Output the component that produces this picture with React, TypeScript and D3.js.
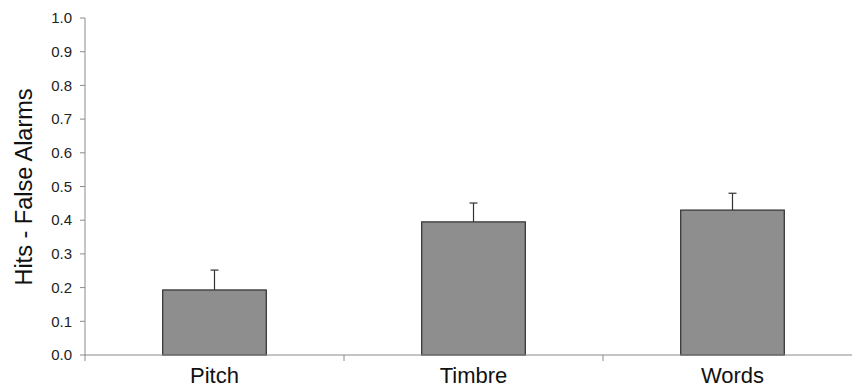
import React from "react";
import * as d3 from "d3";

const categories = ["Pitch", "Timbre", "Words"];
const values = [0.193, 0.395, 0.43];
const errors = [0.059, 0.056, 0.05];
const yTicks = [0, 0.1, 0.2, 0.3, 0.4, 0.5, 0.6, 0.7, 0.8, 0.9, 1.0];

const W = 852;
const H = 388;
const left = 85;
const right = 862;
const top = 18;
const bottom = 355;
const font = "'Liberation Sans', Arial, sans-serif";

export default function App() {
  const x = d3.scaleBand<string>().domain(categories).range([left, right]).paddingInner(0).paddingOuter(0);
  const y = d3.scaleLinear().domain([0, 1]).range([bottom, top]);
  const bw = x.bandwidth() * 0.4;
  const axisColor = "#8a8a8a";
  return (
    <svg width={W} height={H} style={{ position: "absolute", left: 0, top: 0, background: "#fff" }}>
      {/* y axis */}
      <line x1={left} x2={left} y1={y(1)} y2={bottom + 6} stroke={axisColor} strokeWidth={1} />
      {yTicks.map((t) => (
        <g key={t}>
          <line x1={left - 5} x2={left} y1={y(t)} y2={y(t)} stroke={axisColor} />
          <text x={72} y={y(t)} dy="0.35em" textAnchor="end" fontFamily={font} fontSize={15} fill="#222">
            {d3.format(".1f")(t)}
          </text>
        </g>
      ))}
      {/* bars */}
      {categories.map((c, i) => {
        const cx = (x(c) as number) + x.bandwidth() / 2;
        return (
          <g key={c}>
            <line x1={cx} x2={cx} y1={y(values[i])} y2={y(values[i] + errors[i])} stroke="#333" strokeWidth={1.2} />
            <line x1={cx - 4} x2={cx + 4} y1={y(values[i] + errors[i])} y2={y(values[i] + errors[i])} stroke="#333" strokeWidth={1.2} />
            <rect x={cx - bw / 2} y={y(values[i])} width={bw} height={bottom - y(values[i])} fill="#8e8e8e" stroke="#2e2e2e" strokeWidth={1.2} />
          </g>
        );
      })}
      {/* x axis */}
      <line x1={left} x2={W} y1={bottom} y2={bottom} stroke={axisColor} strokeWidth={1} />
      {categories.slice(1).map((c) => (
        <line key={c} x1={x(c) as number} x2={x(c) as number} y1={bottom} y2={bottom + 6} stroke={axisColor} />
      ))}
      {categories.map((c) => (
        <text key={c} x={(x(c) as number) + x.bandwidth() / 2} y={383} textAnchor="middle" fontFamily={font} fontSize={22} fill="#111">
          {c}
        </text>
      ))}
      <text transform={`translate(32,187) rotate(-90)`} textAnchor="middle" fontFamily={font} fontSize={23.5} fill="#111">
        Hits - False Alarms
      </text>
    </svg>
  );
}
